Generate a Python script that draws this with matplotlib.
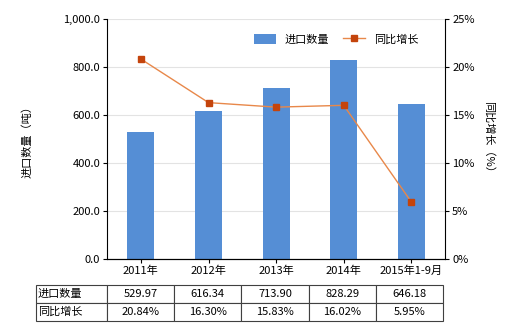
import numpy as np
import matplotlib.pyplot as plt
from matplotlib.ticker import FuncFormatter

plt.rcParams['font.family'] = ['Noto Sans CJK SC', 'DejaVu Sans']
plt.rcParams['font.size'] = 8

# 数据
anos = ['2011年', '2012年', '2013年', '2014年', '2015年1-9月']
quantidade = [529.97, 616.34, 713.90, 828.29, 646.18]
crescimento = [20.84, 16.30, 15.83, 16.02, 5.95]
nome_barra = '进口数量'
nome_linha = '同比增长'

fig = plt.figure(figsize=(5.2, 3.3), dpi=100)
ax = fig.add_axes([0.206, 0.215, 0.65, 0.727])
ax2 = ax.twinx()

x = np.arange(len(anos))
ax.bar(x, quantidade, width=0.4, color='#558ED5', label=nome_barra, zorder=2)
ax2.plot(x, crescimento, color='#E8884A', lw=1, marker='s', ms=4,
         mfc='#C4440C', mec='#C4440C', label=nome_linha)

ax.set_xlim(-0.5, len(anos) - 0.5)
ax.set_ylim(0, 1000)
ax.set_yticks(np.arange(0, 1001, 200))
ax.yaxis.set_major_formatter(FuncFormatter(lambda v, p: f'{v:,.1f}'))
ax2.set_ylim(0, 25)
ax2.set_yticks(np.arange(0, 26, 5))
ax2.yaxis.set_major_formatter(FuncFormatter(lambda v, p: f'{v:.0f}%'))

ax.set_xticks(x)
ax.set_xticklabels(anos)
ax.grid(axis='y', color='#E3E3E3', lw=0.8, zorder=0)
ax.set_axisbelow(True)

for a in (ax, ax2):
    a.spines['top'].set_visible(False)
    a.tick_params(length=3, width=0.8, pad=2)
ax2.spines['left'].set_visible(False)
ax.spines['right'].set_visible(False)

ax.set_ylabel('进口数量（吨）', labelpad=22)
ax2.set_ylabel('同比增长（%）', rotation=-90, labelpad=14)

h1, l1 = ax.get_legend_handles_labels()
h2, l2 = ax2.get_legend_handles_labels()
ax.legend(h1 + h2, l1 + l2, loc='upper right', ncol=2, frameon=False,
          bbox_to_anchor=(0.95, 0.98), handlelength=2.0, handleheight=1.0,
          columnspacing=1.2)

# tabela
linhas = [[nome_barra] + [f'{v:.2f}' for v in quantidade],
          [nome_linha] + [f'{v:.2f}%' for v in crescimento]]
larg = [71] + [67.4] * 5
tab = ax.table(cellText=linhas, colWidths=[w / 408 for w in larg],
               bbox=[-0.21, -0.258, 1.204, 0.15], cellLoc='center')
tab.auto_set_font_size(False)
tab.set_fontsize(8)
for (r, c), cel in tab.get_celld().items():
    cel.set_edgecolor('#404040')
    cel.set_linewidth(0.8)
    if c == 0:
        cel.set_text_props(ha='left')
        cel.PAD = 0.02

fig.savefig('out.png', dpi=100)
